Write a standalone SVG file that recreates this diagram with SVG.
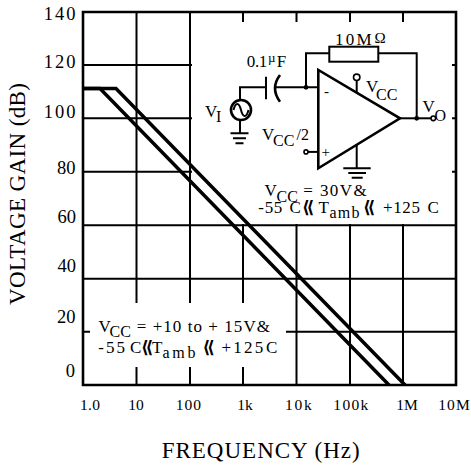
<svg xmlns="http://www.w3.org/2000/svg" width="471" height="469" viewBox="0 0 471 469">
<style>
.g{stroke:#000;stroke-width:2;fill:none}
.fr{stroke:#000;stroke-width:2.6;fill:none}
.cv{stroke:#000;stroke-width:3.5;fill:none;stroke-linejoin:miter}
.w{stroke:#000;stroke-width:2;fill:none}
.w3{stroke:#000;stroke-width:2.6;fill:none}
.dot{fill:#000}
.oc{fill:#fff;stroke:#000;stroke-width:1.6}
text{font-family:"Liberation Serif","Times New Roman",serif;fill:#000}
.tk{font-size:18.5px}
.xt{font-size:15.5px}
.an{font-size:17px}
.sb{font-size:16px}
.ch{font-family:"DejaVu Sans",sans-serif;font-weight:bold;font-size:17px}
.ti{font-size:23px}
</style>
<rect width="471" height="469" fill="#fff"/>
<g id="grid">
<path class="g" d="M136.5,12V303M136.5,367V385M190,12V303M190,367V385M243,12V22M243,224V303M243,367V385M296.5,12V22M296.5,224V385M350,12V22M350,224V385M403,12V22M403,224V385"/>
<path class="g" d="M83,65H192M83,118.3H192M83,171.7H192M83,225.3H456M83,278.7H456M83,331.7H90M286,331.7H456M452,65H456M452,118.3H456M452,171.7H456"/>
<path class="fr" d="M83,12H456V385H83Z"/>
</g>
<g id="curves">
<polyline class="cv" points="83,88.5 116,88.5 405,385"/>
<polyline class="cv" points="83,88.5 100,88.5 389,385"/>
</g>
<g id="y-labels" class="tk" text-anchor="end">
<text x="75.5" y="20" textLength="31.7" lengthAdjust="spacing">140</text>
<text x="75.5" y="68.3" textLength="31.7" lengthAdjust="spacing">120</text>
<text x="75.5" y="118.3" textLength="31.7" lengthAdjust="spacing">100</text>
<text x="75.5" y="174">80</text>
<text x="76" y="223.3">60</text>
<text x="76" y="271.7">40</text>
<text x="75.5" y="323.3">20</text>
<text x="75" y="376.7">0</text>
</g>
<g id="x-labels" class="xt" text-anchor="middle">
<text x="90" y="410" textLength="20" lengthAdjust="spacing">1.0</text>
<text x="136" y="410">10</text>
<text x="188.3" y="410" textLength="25.3" lengthAdjust="spacing">100</text>
<text x="245" y="410">1k</text>
<text x="298.3" y="410" textLength="26.7" lengthAdjust="spacing">10k</text>
<text x="350.8" y="410" textLength="35" lengthAdjust="spacing">100k</text>
<text x="407" y="410">1M</text>
<text x="454" y="410" textLength="31.5" lengthAdjust="spacing">10M</text>
</g>
<g id="titles" class="ti">
<text x="161.7" y="458.3" textLength="198" lengthAdjust="spacing">FREQUENCY (Hz)</text>
<text transform="translate(25,194) rotate(-90)" text-anchor="middle" textLength="222" lengthAdjust="spacing">VOLTAGE GAIN (dB)</text>
</g>
<g id="source">
<circle cx="241" cy="110" r="10" class="w3"/>
<path class="w" stroke-width="1.6" d="M233.5,110c2,-8 5.5,-8 7.5,0s5.5,8 7.5,0"/>
<path class="w" d="M240,100V87.3H266"/>
<path class="w" d="M240,120V133.3"/>
<path class="w" d="M230.5,133.3H248.5M233,138.3H246M235.5,143.3H243.5"/>
<text class="an" x="205" y="116.7">V</text><text class="sb" x="216" y="121.5">I</text>
</g>
<g id="capacitor">
<path class="w" d="M266,76.7V99.3"/>
<path class="w3" d="M280,75Q270,88.3 280,101.7"/>
<path class="w" d="M275,87.3H318"/>
<text class="an" x="246.7" y="66.7" textLength="20.6" lengthAdjust="spacing">0.1</text>
<text x="268" y="62" font-size="13px">µ</text>
<text class="an" x="276.7" y="66.7">F</text>
</g>
<g id="resistor">
<rect x="329.3" y="46.7" width="49" height="15" class="w" fill="#fff"/>
<path class="w" d="M306,87.3V53.3H329.3M378.3,53.3H416.7V118.3"/>
<circle cx="306" cy="87.3" r="2.4" class="dot"/>
<text class="an" x="335" y="45" textLength="36.7" lengthAdjust="spacing">10M</text>
<text x="374.5" y="42.7" font-size="15px">Ω</text>
</g>
<g id="opamp">
<path class="w3" d="M318.3,70V168.3L400,118.3Z"/>
<text x="324" y="96" font-size="15px">-</text>
<text x="321.5" y="156.5" font-size="15px">+</text>
<path class="w" d="M356.7,80.5V92.8"/>
<circle cx="356.7" cy="77.3" r="3.2" class="oc" stroke-width="2"/>
<text class="an" x="366" y="91.7">V</text><text class="sb" x="376" y="99.5">CC</text>
<path class="w" d="M400,118.3H431"/>
<circle cx="416.7" cy="118.3" r="2.4" class="dot"/>
<circle cx="433.3" cy="118.3" r="2.3" class="oc"/>
<text class="an" x="422.5" y="111.7">V</text><text class="sb" x="434.5" y="120.5">O</text>
<path class="w" d="M308,151.9H318.3"/>
<circle cx="306" cy="151.9" r="2" class="oc"/>
<text class="an" x="262" y="140">V</text><text class="sb" x="273" y="145.5">CC</text><text class="sb" x="296.5" y="140">/2</text>
<path class="w" d="M356.7,144.7V168.3"/>
<path class="w" d="M343.3,168.3H370.7M348.3,172.9H366M351.7,177.7H362.7"/>
</g>
<g id="note-30V">
<text class="an" x="264.5" y="195.5">V</text><text class="sb" x="276.5" y="201.5">CC</text>
<text class="an" x="303.3" y="196" textLength="63.4" lengthAdjust="spacing">= 30V&amp;</text>
<text class="an" x="258.3" y="213" textLength="24" lengthAdjust="spacing">-55</text>
<text class="an" x="289.5" y="213">C</text>
<text class="ch" x="302" y="213">⟪</text>
<text class="an" x="318.5" y="213">T</text><text class="sb" x="329.5" y="218" textLength="30" lengthAdjust="spacing">amb</text>
<text class="ch" x="363" y="213">⟪</text>
<text class="an" x="383" y="213" textLength="37" lengthAdjust="spacing">+125</text>
<text class="an" x="427.5" y="213">C</text>
</g>
<g id="note-10-15V">
<text class="an" x="98.5" y="331.7">V</text><text class="sb" x="109.5" y="336.5">CC</text>
<text class="an" x="136.7" y="332.3" textLength="133.3" lengthAdjust="spacing">= +10 to + 15V&amp;</text>
<text class="an" x="98.3" y="353.3" textLength="26.7" lengthAdjust="spacing">-55</text>
<text class="an" x="130" y="353.3">C</text>
<text class="ch" x="141" y="353.3">⟪</text>
<text class="an" x="152" y="353.3">T</text><text class="sb" x="162.5" y="357.5" textLength="33" lengthAdjust="spacing">amb</text>
<text class="ch" x="202.5" y="353.3">⟪</text>
<text class="an" x="221.5" y="353.3" textLength="41.8" lengthAdjust="spacing">+125</text>
<text class="an" x="266" y="353.3">C</text>
</g>
</svg>
